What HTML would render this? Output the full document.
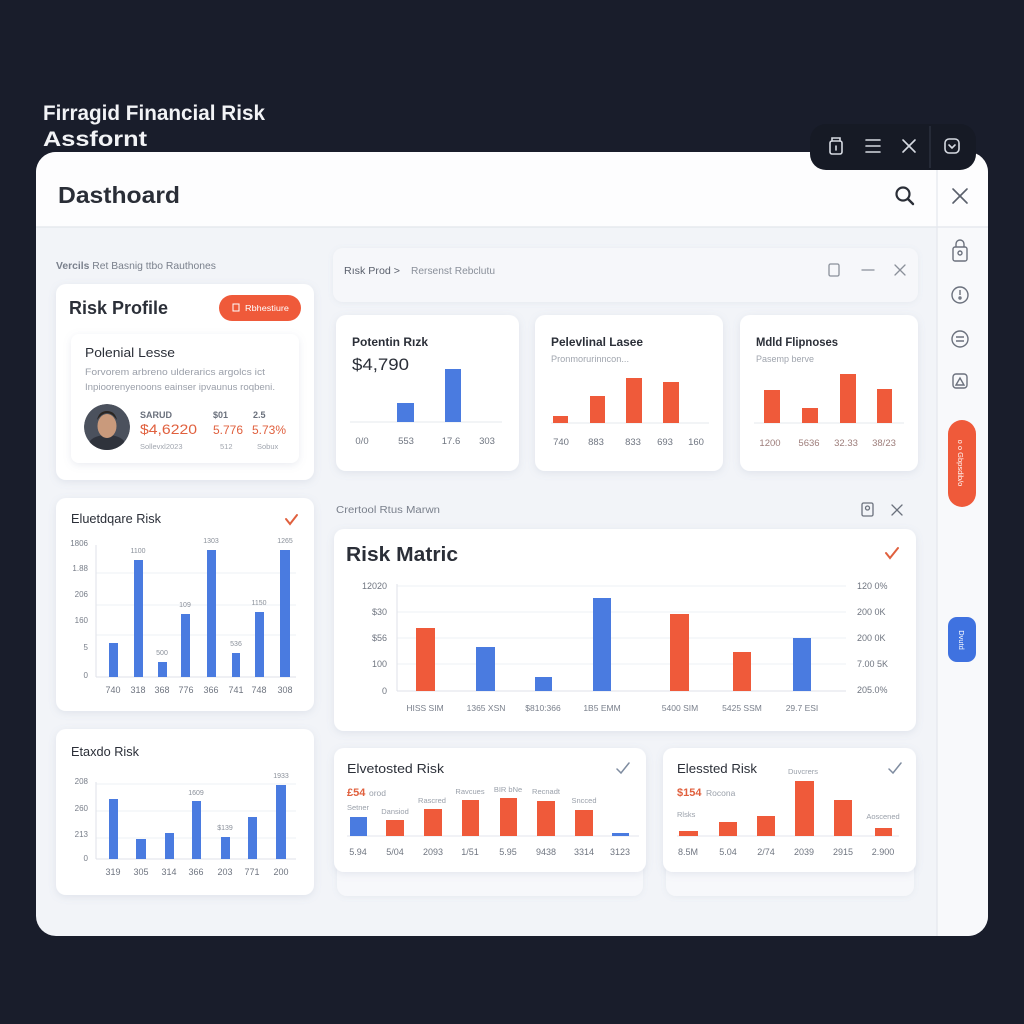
<!DOCTYPE html>
<html><head><meta charset="utf-8"><style>html,body{margin:0;padding:0;background:#191d2b}svg{display:block}</style></head>
<body>
<svg width="1024" height="1024" viewBox="0 0 1024 1024" font-family="'Liberation Sans', sans-serif">
<defs>
<filter id="sh" x="-10%" y="-10%" width="120%" height="130%"><feDropShadow dx="0" dy="2" stdDeviation="4" flood-color="#7d8aa8" flood-opacity="0.16"/></filter>
<filter id="sh2" x="-10%" y="-20%" width="120%" height="150%"><feDropShadow dx="0" dy="1" stdDeviation="3" flood-color="#7d8aa8" flood-opacity="0.10"/></filter>
<clipPath id="pc"><rect x="36" y="152" width="952" height="784" rx="20"/></clipPath>
<clipPath id="av"><circle cx="107" cy="427" r="23"/></clipPath>
</defs>
<rect width="1024" height="1024" fill="#191d2b"/>

<!-- page title -->
<text x="43" y="120" fill="#f2f3f6" font-size="21" font-weight="bold" textLength="222" lengthAdjust="spacingAndGlyphs">Firragid Financial Risk</text>
<text x="43" y="146" fill="#f2f3f6" font-size="21" font-weight="bold" textLength="104" lengthAdjust="spacingAndGlyphs">Assfornt</text>

<!-- panel -->
<g clip-path="url(#pc)">
<rect x="36" y="152" width="952" height="784" fill="#f2f4f8"/>
<rect x="36" y="152" width="952" height="75" fill="#fdfdfe"/>
<rect x="937" y="227" width="51" height="709" fill="#f8f9fb"/>
<line x1="36" y1="227" x2="988" y2="227" stroke="#e3e6ec" stroke-width="1.2"/>
<line x1="937" y1="152" x2="937" y2="936" stroke="#e4e7ed" stroke-width="1.2"/>
</g>

<!-- dark toolbar -->
<rect x="810" y="124" width="166" height="46" rx="16" fill="#161a25"/>
<line x1="930" y1="126" x2="930" y2="168" stroke="#303644" stroke-width="1.2"/>
<g fill="none" stroke="#d6dae2" stroke-width="1.6" stroke-linecap="round">
<rect x="830" y="141" width="12" height="13" rx="2"/><path d="M832 141 v-3 h8 v3"/><line x1="836" y1="146" x2="836" y2="150"/>
<line x1="866" y1="140" x2="880" y2="140"/><line x1="866" y1="146" x2="880" y2="146"/><line x1="866" y1="152" x2="880" y2="152"/>
<line x1="903" y1="140" x2="915" y2="152"/><line x1="915" y1="140" x2="903" y2="152"/>
<rect x="945" y="139" width="14" height="14" rx="4"/><path d="M949 145 l3 3 l3 -3"/>
</g>

<!-- header -->
<text x="58" y="203" fill="#2a2e37" font-size="23" font-weight="bold" textLength="122" lengthAdjust="spacingAndGlyphs">Dasthoard</text>
<circle cx="903" cy="194" r="6.5" fill="none" stroke="#2a2e37" stroke-width="2.2"/>
<line x1="908" y1="199" x2="913" y2="204" stroke="#2a2e37" stroke-width="2.4" stroke-linecap="round"/>
<g stroke="#5a606c" stroke-width="1.6" stroke-linecap="round"><line x1="953" y1="189" x2="967" y2="203"/><line x1="967" y1="189" x2="953" y2="203"/></g>

<!-- sidebar icons -->
<g fill="none" stroke="#6b717d" stroke-width="1.4">
<rect x="953" y="247" width="14" height="14" rx="2"/><path d="M956 247 v-3 a4 4 0 0 1 8 0 v3"/><circle cx="960" cy="253" r="2"/>
<circle cx="960" cy="295" r="8"/><line x1="960" y1="290" x2="960" y2="295"/><circle cx="960" cy="298" r="1"/>
<circle cx="960" cy="339" r="8"/><path d="M956 337 h8 M964 341 h-8"/>
<rect x="953" y="374" width="14" height="14" rx="3"/><path d="M956 385 l4 -7 l4 7 z"/>
</g>
<rect x="948" y="420" width="28" height="87" rx="14" fill="#ef5a3a"/>
<text transform="translate(958,463) rotate(90)" text-anchor="middle" fill="#fff" font-size="7.5">o o Gbpsdib/o</text>
<rect x="948" y="617" width="28" height="45" rx="9" fill="#3f72e0"/>
<text transform="translate(959,640) rotate(90)" text-anchor="middle" fill="#fff" font-size="7.5">Dvutd</text>

<!-- left column -->
<text x="56" y="269" fill="#7a808c" font-size="10.5" textLength="160" lengthAdjust="spacingAndGlyphs"><tspan font-weight="bold">Vercils</tspan> Ret Basnig ttbo Rauthones</text>

<rect x="56" y="284" width="258" height="196" rx="10" fill="#fff" filter="url(#sh)"/>
<text x="69" y="314" fill="#2b2f38" font-size="18" font-weight="bold" textLength="99" lengthAdjust="spacingAndGlyphs">Risk Profile</text>
<rect x="219" y="295" width="82" height="26" rx="13" fill="#ef5a3a"/>
<rect x="233" y="304" width="6" height="7" fill="none" stroke="#fff" stroke-width="1"/>
<text x="245" y="311" fill="#fff" font-size="8.5" textLength="44" lengthAdjust="spacingAndGlyphs">Rbhestiure</text>

<rect x="71" y="334" width="228" height="129" rx="8" fill="#fff" filter="url(#sh)"/>
<text x="85" y="357" fill="#2b2f38" font-size="13" textLength="90" lengthAdjust="spacingAndGlyphs">Polenial Lesse</text>
<text x="85" y="375" fill="#9a9fa9" font-size="9.5" textLength="180" lengthAdjust="spacingAndGlyphs">Forvorem arbreno ulderarics argolcs ict</text>
<text x="85" y="390" fill="#9a9fa9" font-size="9.5" textLength="190" lengthAdjust="spacingAndGlyphs">Inpioorenyenoons eainser ipvaunus roqbeni.</text>
<g clip-path="url(#av)">
<circle cx="107" cy="427" r="23" fill="#4b515d"/>
<ellipse cx="107" cy="444" rx="18" ry="9" fill="#2f333c"/>
<ellipse cx="107" cy="426" rx="9.5" ry="12" fill="#c99a7c"/>
<path d="M97 420 q10 -14 20 0 q-2 -9 -10 -9 q-8 0 -10 9z" fill="#2a2521"/>
</g>
<text x="140" y="418" fill="#6a707c" font-size="9" font-weight="bold">SARUD</text>
<text x="140" y="434" fill="#e0603e" font-size="14" textLength="57" lengthAdjust="spacingAndGlyphs">$4,6220</text>
<text x="140" y="449" fill="#a0a5ae" font-size="7.5">Sollevxl2023</text>
<text x="213" y="418" fill="#6a707c" font-size="9" font-weight="bold">$01</text>
<text x="213" y="434" fill="#e0603e" font-size="12">5.776</text>
<text x="220" y="449" fill="#a0a5ae" font-size="7.5">512</text>
<text x="253" y="418" fill="#6a707c" font-size="9" font-weight="bold">2.5</text>
<text x="252" y="434" fill="#e0603e" font-size="12">5.73%</text>
<text x="257" y="449" fill="#a0a5ae" font-size="7.5">Sobux</text>

<!-- Elevated risk card 1 -->
<rect x="56" y="498" width="258" height="213" rx="10" fill="#fff" filter="url(#sh)"/>
<text x="71" y="523" fill="#2b2f38" font-size="12.5" textLength="90" lengthAdjust="spacingAndGlyphs">Eluetdqare Risk</text>
<polyline points="286,519 290,524 297,515" fill="none" stroke="#e0603e" stroke-width="2" stroke-linecap="round"/>
<g font-size="8" fill="#777d88" text-anchor="end">
<text x="88" y="546">1806</text><text x="88" y="571">1.88</text><text x="88" y="597">206</text><text x="88" y="623">160</text><text x="88" y="650">5</text><text x="88" y="678">0</text>
</g>
<g stroke="#eef0f4"><line x1="96" y1="573" x2="296" y2="573"/><line x1="96" y1="605" x2="296" y2="605"/><line x1="96" y1="635" x2="296" y2="635"/></g>
<line x1="96" y1="545" x2="96" y2="677" stroke="#dfe2e8"/>
<line x1="96" y1="677" x2="296" y2="677" stroke="#dfe2e8"/>
<g fill="#4a7be0">
<rect x="109" y="643" width="9" height="34"/><rect x="134" y="560" width="9" height="117"/><rect x="158" y="662" width="9" height="15"/><rect x="181" y="614" width="9" height="63"/>
<rect x="207" y="550" width="9" height="127"/><rect x="232" y="653" width="8" height="24"/><rect x="255" y="612" width="9" height="65"/><rect x="280" y="550" width="10" height="127"/>
</g>
<g font-size="7" fill="#8a909a" text-anchor="middle">
<text x="138" y="553">1100</text><text x="211" y="543">1303</text><text x="285" y="543">1265</text><text x="185" y="607">109</text><text x="162" y="655">500</text><text x="236" y="646">536</text><text x="259" y="605">1150</text>
</g>
<g font-size="9" fill="#6f7580" text-anchor="middle">
<text x="113" y="693">740</text><text x="138" y="693">318</text><text x="162" y="693">368</text><text x="186" y="693">776</text><text x="211" y="693">366</text><text x="236" y="693">741</text><text x="259" y="693">748</text><text x="285" y="693">308</text>
</g>

<!-- Elevated risk card 2 -->
<rect x="56" y="729" width="258" height="166" rx="10" fill="#fff" filter="url(#sh)"/>
<text x="71" y="756" fill="#2b2f38" font-size="12.5" textLength="68" lengthAdjust="spacingAndGlyphs">Etaxdo Risk</text>
<g font-size="8" fill="#777d88" text-anchor="end">
<text x="88" y="784">208</text><text x="88" y="811">260</text><text x="88" y="837">213</text><text x="88" y="861">0</text>
</g>
<g stroke="#eef0f4"><line x1="96" y1="784" x2="296" y2="784"/><line x1="96" y1="811" x2="296" y2="811"/><line x1="96" y1="838" x2="296" y2="838"/></g>
<line x1="96" y1="782" x2="96" y2="859" stroke="#dfe2e8"/>
<line x1="96" y1="859" x2="296" y2="859" stroke="#dfe2e8"/>
<g fill="#4a7be0">
<rect x="109" y="799" width="9" height="60"/><rect x="136" y="839" width="10" height="20"/><rect x="165" y="833" width="9" height="26"/><rect x="192" y="801" width="9" height="58"/>
<rect x="221" y="837" width="9" height="22"/><rect x="248" y="817" width="9" height="42"/><rect x="276" y="785" width="10" height="74"/>
</g>
<g font-size="7" fill="#8a909a" text-anchor="middle">
<text x="196" y="795">1609</text><text x="281" y="778">1933</text><text x="225" y="830">$139</text>
</g>
<g font-size="9" fill="#6f7580" text-anchor="middle">
<text x="113" y="875">319</text><text x="141" y="875">305</text><text x="169" y="875">314</text><text x="196" y="875">366</text><text x="225" y="875">203</text><text x="252" y="875">771</text><text x="281" y="875">200</text>
</g>

<!-- breadcrumb strip -->
<rect x="333" y="248" width="585" height="54" rx="10" fill="#f6f7fa" filter="url(#sh2)"/>
<text x="344" y="274" fill="#5a606c" font-size="10" textLength="56" lengthAdjust="spacingAndGlyphs">Rısk Prod &gt;</text>
<text x="411" y="274" fill="#8a909a" font-size="10" textLength="84" lengthAdjust="spacingAndGlyphs">Rersenst Rebclutu</text>
<g fill="none" stroke="#8a909a" stroke-width="1.3" stroke-linecap="round">
<rect x="829" y="264" width="10" height="12" rx="1.5"/>
<line x1="862" y1="270" x2="874" y2="270"/>
<line x1="895" y1="265" x2="905" y2="275"/><line x1="905" y1="265" x2="895" y2="275"/>
</g>

<!-- small card A -->
<rect x="336" y="315" width="183" height="156" rx="10" fill="#fff" filter="url(#sh)"/>
<text x="352" y="346" fill="#2b2f38" font-size="11.5" font-weight="bold" textLength="76" lengthAdjust="spacingAndGlyphs">Potentin Rızk</text>
<text x="352" y="370" fill="#2b2f38" font-size="17" textLength="57" lengthAdjust="spacingAndGlyphs">$4,790</text>
<line x1="350" y1="422" x2="502" y2="422" stroke="#e6e9ee"/>
<g fill="#4a7be0"><rect x="397" y="403" width="17" height="19"/><rect x="445" y="369" width="16" height="53"/></g>
<g font-size="9.5" fill="#6f7580" text-anchor="middle"><text x="362" y="444">0/0</text><text x="406" y="444">553</text><text x="451" y="444">17.6</text><text x="487" y="444">303</text></g>

<!-- small card B -->
<rect x="535" y="315" width="188" height="156" rx="10" fill="#fff" filter="url(#sh)"/>
<text x="551" y="346" fill="#2b2f38" font-size="11.5" font-weight="bold" textLength="92" lengthAdjust="spacingAndGlyphs">Pelevlinal Lasee</text>
<text x="551" y="362" fill="#a0a5ae" font-size="9" textLength="78" lengthAdjust="spacingAndGlyphs">Pronmorurinncon...</text>
<line x1="551" y1="423" x2="709" y2="423" stroke="#e6e9ee"/>
<g fill="#ef5a3a"><rect x="553" y="416" width="15" height="7"/><rect x="590" y="396" width="15" height="27"/><rect x="626" y="378" width="16" height="45"/><rect x="663" y="382" width="16" height="41"/></g>
<g font-size="9.5" fill="#6f7580" text-anchor="middle"><text x="561" y="445">740</text><text x="596" y="445">883</text><text x="633" y="445">833</text><text x="665" y="445">693</text><text x="696" y="445">160</text></g>

<!-- small card C -->
<rect x="740" y="315" width="178" height="156" rx="10" fill="#fff" filter="url(#sh)"/>
<text x="756" y="346" fill="#2b2f38" font-size="11.5" font-weight="bold" textLength="82" lengthAdjust="spacingAndGlyphs">Mdld Flipnoses</text>
<text x="756" y="362" fill="#a0a5ae" font-size="9" textLength="58" lengthAdjust="spacingAndGlyphs">Pasemp berve</text>
<line x1="754" y1="423" x2="904" y2="423" stroke="#e6e9ee"/>
<g fill="#ef5a3a"><rect x="764" y="390" width="16" height="33"/><rect x="802" y="408" width="16" height="15"/><rect x="840" y="374" width="16" height="49"/><rect x="877" y="389" width="15" height="34"/></g>
<g font-size="9.5" fill="#9d7d7a" text-anchor="middle"><text x="770" y="446">1200</text><text x="809" y="446">5636</text><text x="846" y="446">32.33</text><text x="884" y="446">38/23</text></g>

<!-- risk matric section -->
<text x="336" y="513" fill="#7a808c" font-size="10" textLength="104" lengthAdjust="spacingAndGlyphs">Crertool Rtus Marwn</text>
<g fill="none" stroke="#6b717d" stroke-width="1.3" stroke-linecap="round">
<rect x="862" y="503" width="11" height="13" rx="1.5"/><circle cx="867.5" cy="508" r="2"/>
<line x1="892" y1="505" x2="902" y2="515"/><line x1="902" y1="505" x2="892" y2="515"/>
</g>
<rect x="334" y="529" width="582" height="202" rx="10" fill="#fff" filter="url(#sh)"/>
<text x="346" y="561" fill="#2b2f38" font-size="20" font-weight="bold" textLength="112" lengthAdjust="spacingAndGlyphs">Risk Matric</text>
<polyline points="886,553 890,558 898,548" fill="none" stroke="#e0603e" stroke-width="2" stroke-linecap="round"/>
<g font-size="9" fill="#6f7580" text-anchor="end">
<text x="387" y="589">12020</text><text x="387" y="615">$30</text><text x="387" y="641">$56</text><text x="387" y="667">100</text><text x="387" y="694">0</text>
</g>
<g stroke="#eef0f4"><line x1="397" y1="586" x2="846" y2="586"/><line x1="397" y1="612" x2="846" y2="612"/><line x1="397" y1="638" x2="846" y2="638"/><line x1="397" y1="664" x2="846" y2="664"/></g>
<line x1="397" y1="584" x2="397" y2="691" stroke="#dfe2e8"/>
<line x1="397" y1="691" x2="846" y2="691" stroke="#dfe2e8"/>
<g font-size="9" fill="#6f7580">
<text x="857" y="589">120 0%</text><text x="857" y="615">200 0K</text><text x="857" y="641">200 0K</text><text x="857" y="667">7.00 5K</text><text x="857" y="693">205.0%</text>
</g>
<rect x="416" y="628" width="19" height="63" fill="#ef5a3a"/>
<rect x="476" y="647" width="19" height="44" fill="#4a7be0"/>
<rect x="535" y="677" width="17" height="14" fill="#4a7be0"/>
<rect x="593" y="598" width="18" height="93" fill="#4a7be0"/>
<rect x="670" y="614" width="19" height="77" fill="#ef5a3a"/>
<rect x="733" y="652" width="18" height="39" fill="#ef5a3a"/>
<rect x="793" y="638" width="18" height="53" fill="#4a7be0"/>
<g font-size="8.5" fill="#7a808c" text-anchor="middle">
<text x="425" y="711">HISS SIM</text><text x="486" y="711">1365 XSN</text><text x="543" y="711">$810:366</text><text x="602" y="711">1B5 EMM</text><text x="680" y="711">5400 SIM</text><text x="742" y="711">5425 SSM</text><text x="802" y="711">29.7 ESI</text>
</g>

<!-- bottom left card -->
<rect x="337" y="856" width="306" height="40" rx="10" fill="#f7f8fb" filter="url(#sh2)"/>
<rect x="334" y="748" width="312" height="124" rx="10" fill="#fff" filter="url(#sh)"/>
<text x="347" y="773" fill="#2b2f38" font-size="13" textLength="97" lengthAdjust="spacingAndGlyphs">Elvetosted Risk</text>
<polyline points="617,769 621,773 629,763" fill="none" stroke="#7f8ca0" stroke-width="1.5" stroke-linecap="round"/>
<text x="347" y="796" fill="#e0603e" font-size="11" font-weight="bold">£54</text>
<text x="369" y="796" fill="#9aa0aa" font-size="8.5">orod</text>
<line x1="347" y1="836" x2="639" y2="836" stroke="#e3e6ec"/>
<rect x="350" y="817" width="17" height="19" fill="#4a7be0"/>
<g fill="#ef5a3a"><rect x="386" y="820" width="18" height="16"/><rect x="424" y="809" width="18" height="27"/><rect x="462" y="800" width="17" height="36"/><rect x="500" y="798" width="17" height="38"/><rect x="537" y="801" width="18" height="35"/><rect x="575" y="810" width="18" height="26"/></g>
<rect x="612" y="833" width="17" height="3" fill="#4a7be0"/>
<g font-size="7.5" fill="#9aa0aa" text-anchor="middle">
<text x="358" y="810">Setner</text><text x="395" y="814">Dansiod</text><text x="432" y="803">Rascred</text><text x="470" y="794">Ravcues</text><text x="508" y="792">BIR bNe</text><text x="546" y="794">Recnadt</text><text x="584" y="803">Sncced</text>
</g>
<g font-size="9" fill="#6f7580" text-anchor="middle">
<text x="358" y="855">5.94</text><text x="395" y="855">5/04</text><text x="433" y="855">2093</text><text x="470" y="855">1/51</text><text x="508" y="855">5.95</text><text x="546" y="855">9438</text><text x="584" y="855">3314</text><text x="620" y="855">3123</text>
</g>

<!-- bottom right card -->
<rect x="666" y="856" width="248" height="40" rx="10" fill="#f7f8fb" filter="url(#sh2)"/>
<rect x="663" y="748" width="253" height="124" rx="10" fill="#fff" filter="url(#sh)"/>
<text x="677" y="773" fill="#2b2f38" font-size="13" textLength="80" lengthAdjust="spacingAndGlyphs">Elessted Risk</text>
<polyline points="889,769 893,773 901,763" fill="none" stroke="#7f8ca0" stroke-width="1.5" stroke-linecap="round"/>
<text x="677" y="796" fill="#e0603e" font-size="11" font-weight="bold">$154</text>
<text x="706" y="796" fill="#9aa0aa" font-size="8.5">Rocona</text>
<g font-size="7.5" fill="#9aa0aa">
<text x="803" y="774" text-anchor="middle">Duvcrers</text><text x="677" y="817">Rlsks</text><text x="883" y="819" text-anchor="middle">Aoscened</text>
</g>
<line x1="677" y1="836" x2="899" y2="836" stroke="#e3e6ec"/>
<g fill="#ef5a3a"><rect x="679" y="831" width="19" height="5"/><rect x="719" y="822" width="18" height="14"/><rect x="757" y="816" width="18" height="20"/><rect x="795" y="781" width="19" height="55"/><rect x="834" y="800" width="18" height="36"/><rect x="875" y="828" width="17" height="8"/></g>
<g font-size="9" fill="#6f7580" text-anchor="middle">
<text x="688" y="855">8.5M</text><text x="728" y="855">5.04</text><text x="766" y="855">2/74</text><text x="804" y="855">2039</text><text x="843" y="855">2915</text><text x="883" y="855">2.900</text>
</g>
</svg>
</body></html>
